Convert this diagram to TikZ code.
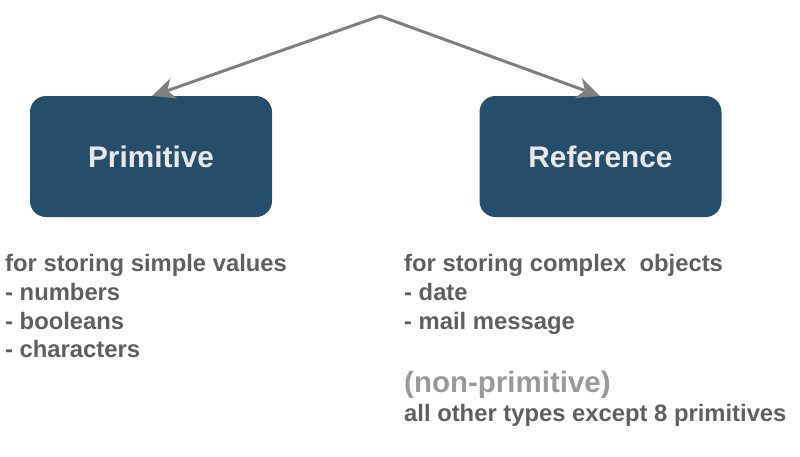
\documentclass[tikz,border=0pt]{standalone}
\usepackage{fontspec}
\setmainfont{Liberation Sans}
\usetikzlibrary{arrows.meta}
\definecolor{boxblue}{HTML}{264D6A}
\definecolor{txtgray}{HTML}{5F5F5F}
\definecolor{lightgray}{HTML}{999999}
\definecolor{arrowgray}{HTML}{808080}
\definecolor{boxtxt}{HTML}{E8E8E8}
\begin{document}
\begin{tikzpicture}[x=1pt,y=-1pt,
  box/.style={draw=none,fill=boxblue,rounded corners=16pt,minimum width=242pt,minimum height=121pt,
    text=boxtxt,font=\fontsize{29.8}{34}\selectfont\bfseries,inner sep=0pt},
  conn/.style={draw=arrowgray,line width=3pt,-{Stealth[length=23pt,width=21pt,inset=7pt]}},
  body/.style={anchor=base west,inner sep=0pt,text=txtgray,font=\fontsize{23.8}{28}\selectfont\bfseries},
  note/.style={anchor=base west,inner sep=0pt,text=lightgray,font=\fontsize{29.5}{34}\selectfont\bfseries}]
\useasboundingbox (0,0) rectangle (800,456);
\coordinate (apex) at (380,16);
\node[box] (prim) at (151,156.5) {Primitive};
\node[box] (ref) at (600.5,156.5) {Reference};
\coordinate (ptip) at (152,96);
\coordinate (rtip) at (600,96);
\draw[conn] (apex) -- (ptip);
\draw[conn] (apex) -- (rtip);
\node[body] (l1) at (5,271) {for storing simple values};
\node[body] (l2) at (5,300) {- numbers};
\node[body] (l3) at (5,329) {- booleans};
\node[body] (l4) at (5,357) {- characters};
\node[body] (r1) at (404,271) {for storing complex\ \ objects};
\node[body] (r2) at (404,300) {- date};
\node[body] (r3) at (404,329) {- mail message};
\node[note] (r4) at (404,392) {(non-primitive)};
\node[body] (r5) at (404,421) {all other types except 8 primitives};
\end{tikzpicture}
\end{document}
